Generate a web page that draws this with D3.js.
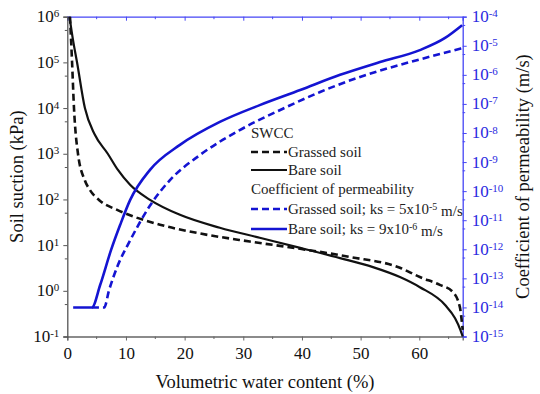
<!DOCTYPE html>
<html>
<head>
<meta charset="utf-8">
<script src="https://cdn.jsdelivr.net/npm/d3@7"></script>
<style>
  html, body { margin: 0; padding: 0; background: #fff; }
  svg { display: block; }
</style>
</head>
<body>
<svg id="chart" width="540" height="394"></svg>
<script>
// Volumetric water content (%) and soil suction (kPa) — SWCC
const swccGrassedX = [0.46, 0.8, 1.14, 1.82, 3.0, 3.9, 5.5, 8.5, 10.7, 15.8, 22.6, 31.1, 39.7, 48.2, 56.7, 60.1, 63.5, 65.7, 66.9, 67.4];
const swccGrassedY = [1e6, 1.1e5, 1e4, 1e3, 2.6e2, 158, 95, 59, 45, 28, 18, 12, 8.3, 5.5, 3.2, 2.0, 1.35, 0.95, 0.45, 0.14];
const swccBareX = [0.37, 0.97, 1.65, 3.0, 4.7, 6.9, 8.6, 10.7, 14.1, 19.2, 26.0, 32.8, 39.7, 46.5, 52.1, 56.7, 60.1, 64.4, 66.1, 67.0, 67.4];
const swccBareY = [1e6, 3.1e5, 1.02e5, 1e4, 2.6e3, 1e3, 447, 209, 98, 46, 24, 14.5, 8.7, 5.2, 3.3, 2.0, 1.2, 0.49, 0.25, 0.14, 0.1];

// Coefficient of permeability (m/s)
const kGrassedX = [4.2, 6.3, 7.1, 8.6, 10.7, 14.1, 17.5, 22.6, 29.4, 36.3, 43.1, 49.9, 56.7, 63.5, 67.3];
const kGrassedY = [1e-14, 1e-14, 3.8e-14, 2.75e-13, 2e-12, 3.2e-11, 2.4e-10, 1.74e-9, 1.26e-8, 6.2e-8, 2.57e-7, 8.5e-7, 2.2e-6, 5.2e-6, 8.3e-6];
const kBareX = [1.0, 4.2, 5.6, 7.45, 9.0, 10.7, 14.1, 19.2, 26.0, 32.8, 39.7, 46.5, 53.3, 60.1, 64.4, 67.3];
const kBareY = [1e-14, 1e-14, 5.9e-14, 9.3e-13, 6.8e-12, 4.9e-11, 5.4e-10, 3.9e-9, 2.4e-8, 9.1e-8, 3.0e-7, 1e-6, 2.75e-6, 7.1e-6, 1.86e-5, 5.1e-5];

// Tick values
const xTicks = [0, 10, 20, 30, 40, 50, 60];
const xMinor = [5, 15, 25, 35, 45, 55, 65];
const suctionExp = [-1, 0, 1, 2, 3, 4, 5, 6];
const permExp = [-15, -14, -13, -12, -11, -10, -9, -8, -7, -6, -5, -4];

const svg = d3.select("#chart");
const serif = "Liberation Serif";
const pLeft = 67.3, pRight = 462.7, pTop = 16.7, pBottom = 336.5;
const blueAxis = "#4646f5";
const blueLine = "#1414d2";

const x = d3.scaleLinear().domain([0, 67.4]).range([pLeft, pRight]);
const yS = d3.scaleLog().domain([0.1, 1e6]).range([pBottom, pTop]);
const yK = d3.scaleLog().domain([1e-15, 1e-4]).range([pBottom, pTop]);

// Power-of-ten label with a raised exponent
function powLabel(sel, exp) {
  sel.text(null);
  sel.append("tspan").text("10");
  sel.append("tspan").attr("dy", "-0.45em").attr("font-size", 11).text(exp);
}

// Bottom axis
const xAxis = d3.axisBottom(x).tickValues(xTicks).tickSize(4).tickPadding(6).tickFormat(d3.format("d"));
const gx = svg.append("g").attr("transform", `translate(0,${pBottom})`).call(xAxis);
gx.attr("font-family", serif).attr("font-size", 17);
gx.select(".domain").attr("stroke", "#666").attr("stroke-width", 1.3);
gx.selectAll(".tick line").attr("stroke", "#666");
gx.selectAll(".tick text").attr("fill", "#111");
gx.selectAll(".minor").data(xMinor).enter().append("line")
  .attr("x1", d => x(d)).attr("x2", d => x(d)).attr("y1", 0).attr("y2", 2.5).attr("stroke", "#666");

// Top axis (blue frame)
const xTop = d3.axisTop(x).tickValues(xTicks).tickSize(-4).tickFormat("");
const gt = svg.append("g").attr("transform", `translate(0,${pTop})`).call(xTop);
gt.select(".domain").attr("stroke", blueAxis).attr("stroke-width", 1.3);
gt.selectAll(".tick line").attr("stroke", blueAxis);
gt.selectAll(".minor").data(xMinor).enter().append("line")
  .attr("x1", d => x(d)).attr("x2", d => x(d)).attr("y1", 0).attr("y2", 2.5).attr("stroke", blueAxis);

// Left axis: soil suction
const yLeft = d3.axisLeft(yS).tickValues(suctionExp.map(e => Math.pow(10, e))).tickSize(4).tickFormat("");
const gl = svg.append("g").attr("transform", `translate(${pLeft},0)`).call(yLeft);
gl.attr("font-family", serif).attr("font-size", 17);
gl.select(".domain").attr("stroke", "#555").attr("stroke-width", 1.3);
gl.selectAll(".tick line").attr("stroke", "#555");
gl.selectAll(".lbl").data(suctionExp).enter().append("text")
  .attr("x", -8).attr("y", d => yS(Math.pow(10, d)) + 5.5)
  .attr("text-anchor", "end").attr("fill", "#111")
  .each(function(d) { powLabel(d3.select(this), d); });
gl.selectAll(".minor").data(suctionExp.slice(0, -1)).enter().append("line")
  .attr("x1", -2.5).attr("x2", 0)
  .attr("y1", d => yS(5 * Math.pow(10, d))).attr("y2", d => yS(5 * Math.pow(10, d)))
  .attr("stroke", "#555");

// Right axis: coefficient of permeability
const yRight = d3.axisRight(yK).tickValues(permExp.map(e => Math.pow(10, e))).tickSize(4).tickFormat("");
const gr = svg.append("g").attr("transform", `translate(${pRight},0)`).call(yRight);
gr.attr("font-family", serif).attr("font-size", 17);
gr.select(".domain").attr("stroke", blueAxis).attr("stroke-width", 1.3);
gr.selectAll(".tick line").attr("stroke", blueAxis);
gr.selectAll(".lbl").data(permExp).enter().append("text")
  .attr("x", 9).attr("y", d => yK(Math.pow(10, d)) + 5.5)
  .attr("text-anchor", "start").attr("fill", "#2a2ae0")
  .each(function(d) { powLabel(d3.select(this), d); });
gr.selectAll(".minor").data(permExp.slice(0, -1)).enter().append("line")
  .attr("x1", 0).attr("x2", 2.5)
  .attr("y1", d => yK(5 * Math.pow(10, d))).attr("y2", d => yK(5 * Math.pow(10, d)))
  .attr("stroke", blueAxis);

// Axis titles
const titles = svg.append("g").attr("font-family", serif).attr("font-size", 18.5).attr("fill", "#111");
titles.append("text").attr("x", (pLeft + pRight) / 2).attr("y", 388)
  .attr("text-anchor", "middle")
  .text("Volumetric water content (%)");
titles.append("text").attr("transform", `translate(23,${(pTop + pBottom) / 2}) rotate(-90)`)
  .attr("text-anchor", "middle")
  .text("Soil suction (kPa)");
titles.append("text").attr("transform", `translate(529,${(pTop + pBottom) / 2}) rotate(-90)`)
  .attr("text-anchor", "middle")
  .text("Coefficient of permeability (m/s)");

// Curves
const plot = svg.append("g");
function drawCurve(xs, ys, yScale, color, dash, width) {
  const pts = xs.map((v, i) => [v, ys[i]]);
  const line = d3.line().x(d => x(d[0])).y(d => yScale(d[1])).curve(d3.curveMonotoneX);
  plot.append("path").attr("d", line(pts)).attr("fill", "none")
    .attr("stroke", color).attr("stroke-width", width)
    .attr("stroke-dasharray", dash);
}
drawCurve(swccGrassedX, swccGrassedY, yS, "#111", "7,4", 2.6);
drawCurve(swccBareX, swccBareY, yS, "#111", null, 2.2);
drawCurve(kGrassedX, kGrassedY, yK, blueLine, "7,4", 2.6);
drawCurve(kBareX, kBareY, yK, blueLine, null, 2.6);

// Legend
const lg = svg.append("g").attr("font-family", serif).attr("font-size", 15).attr("fill", "#222");
const lgX = 251, lgLine = 36;
const legendRows = [
  { y: 138, text: "SWCC" },
  { y: 157, text: "Grassed soil", color: "#111", dash: "7,4", w: 2.6 },
  { y: 175, text: "Bare soil", color: "#111", dash: null, w: 2.2 },
  { y: 194, text: "Coefficient of permeability" },
  { y: 214, text: "Grassed soil; ks = 5x10", sup: "-5", tail: " m/s", color: blueLine, dash: "7,4", w: 2.6 },
  { y: 234, text: "Bare soil; ks = 9x10", sup: "-6", tail: " m/s", color: blueLine, dash: null, w: 2.6 }
];
legendRows.forEach(r => {
  let tx = lgX;
  if (r.color) {
    lg.append("line").attr("x1", lgX).attr("x2", lgX + lgLine)
      .attr("y1", r.y - 5).attr("y2", r.y - 5)
      .attr("stroke", r.color).attr("stroke-width", r.w).attr("stroke-dasharray", r.dash);
    tx = lgX + lgLine + 1;
  }
  const t = lg.append("text").attr("x", tx).attr("y", r.y);
  t.append("tspan").text(r.text);
  if (r.sup) {
    t.append("tspan").attr("dy", "-0.45em").attr("font-size", 10).text(r.sup);
    t.append("tspan").attr("dy", "0.45em").text(r.tail);
  }
});
</script>
</body>
</html>
